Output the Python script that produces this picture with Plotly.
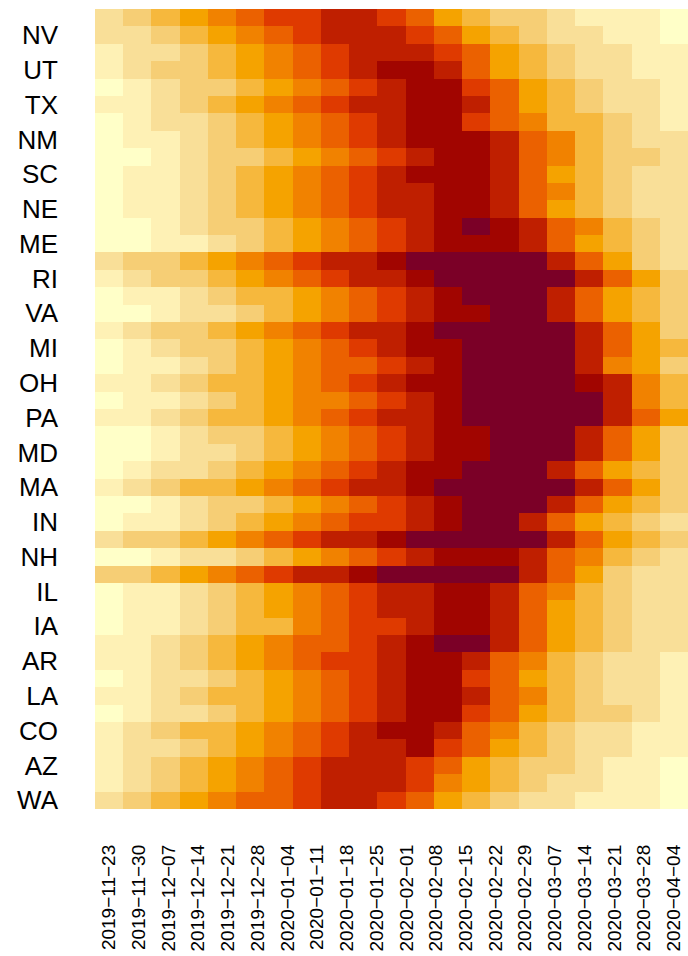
import plotly.graph_objects as go

# Week labels shown on the x axis (20 labels spread over 21 weekly columns)
week_labels = ["2019−11−23", "2019−11−30", "2019−12−07", "2019−12−14", "2019−12−21",
               "2019−12−28", "2020−01−04", "2020−01−11", "2020−01−18", "2020−01−25",
               "2020−02−01", "2020−02−08", "2020−02−15", "2020−02−22", "2020−02−29",
               "2020−03−07", "2020−03−14", "2020−03−21", "2020−03−28", "2020−04−04"]
n_weeks = 21

# Row labels top-to-bottom (only every other row is labelled in the chart)
row_labels = ["", "NV", "", "UT", "", "TX", "", "NM", "", "SC", "", "NE", "", "ME",
              "", "RI", "", "VA", "", "MI", "", "OH", "", "PA", "", "MD", "", "MA",
              "", "IN", "", "NH", "", "IL", "", "IA", "", "AR", "", "LA", "", "CO",
              "", "AZ", "", "WA"]

# Activity level (1 = lowest, 12 = highest), rows top-to-bottom, 21 weeks each
r01 = [3, 4, 5, 6, 7, 8, 9, 9, 10, 10, 9, 8, 6, 5, 4, 4, 3, 2, 2, 2, 1]
r02 = [3, 3, 4, 5, 6, 7, 8, 9, 10, 10, 10, 9, 8, 6, 5, 4, 3, 3, 2, 2, 1]
r03 = [2, 3, 3, 4, 5, 6, 7, 8, 9, 10, 10, 10, 9, 8, 6, 5, 4, 3, 3, 2, 2]
r04 = [2, 3, 4, 4, 5, 6, 7, 8, 9, 10, 11, 11, 10, 8, 6, 5, 4, 3, 3, 2, 2]
r05 = [1, 2, 3, 4, 4, 5, 6, 7, 8, 9, 10, 11, 11, 9, 8, 6, 5, 4, 3, 3, 2]
r06 = [2, 2, 3, 4, 5, 6, 7, 8, 9, 10, 10, 11, 11, 10, 8, 6, 5, 4, 3, 3, 2]
r07 = [1, 2, 3, 3, 4, 5, 6, 7, 8, 9, 10, 11, 11, 9, 8, 7, 5, 5, 4, 3, 2]
r08 = [1, 2, 2, 3, 4, 5, 6, 7, 8, 9, 10, 11, 11, 11, 10, 8, 7, 5, 4, 3, 3]
r09 = [1, 1, 2, 3, 4, 4, 5, 6, 7, 8, 9, 10, 11, 11, 10, 8, 7, 5, 4, 4, 3]
r10 = [1, 2, 2, 3, 4, 5, 6, 7, 8, 9, 10, 11, 11, 11, 10, 8, 6, 5, 4, 3, 3]
r11 = [1, 2, 2, 3, 4, 5, 6, 7, 8, 9, 10, 10, 11, 11, 10, 8, 7, 5, 4, 3, 3]
r12 = [1, 2, 2, 3, 4, 5, 6, 7, 8, 9, 10, 10, 11, 11, 10, 8, 6, 5, 4, 3, 3]
r13 = [1, 1, 2, 3, 4, 4, 5, 6, 7, 8, 9, 10, 11, 12, 11, 10, 8, 7, 5, 4, 3]
r14 = [1, 1, 2, 2, 3, 4, 5, 6, 7, 8, 9, 10, 11, 11, 11, 10, 8, 6, 5, 4, 3]
r15 = [3, 4, 4, 5, 6, 7, 8, 9, 10, 10, 11, 12, 12, 12, 12, 12, 10, 8, 6, 4, 3]
r16 = [2, 3, 4, 4, 5, 6, 7, 8, 9, 10, 10, 11, 12, 12, 12, 12, 12, 10, 8, 6, 4]
r17 = [1, 2, 2, 3, 4, 5, 5, 6, 7, 8, 9, 10, 11, 12, 12, 12, 10, 8, 6, 5, 4]
r18 = [1, 1, 2, 3, 3, 4, 5, 6, 7, 8, 9, 10, 11, 11, 12, 12, 10, 8, 6, 5, 4]
r19 = [2, 3, 4, 4, 5, 6, 7, 8, 9, 10, 10, 11, 12, 12, 12, 12, 12, 10, 8, 6, 4]
r20 = [1, 2, 3, 4, 4, 5, 6, 7, 8, 9, 10, 11, 11, 12, 12, 12, 12, 10, 8, 6, 5]
r21 = [1, 2, 2, 3, 4, 5, 6, 7, 8, 8, 9, 10, 11, 12, 12, 12, 12, 10, 7, 6, 4]
r22 = [2, 2, 3, 4, 5, 5, 6, 7, 8, 9, 10, 11, 11, 12, 12, 12, 12, 11, 10, 7, 5]
r23 = [1, 2, 2, 3, 4, 5, 6, 7, 7, 8, 9, 10, 11, 12, 12, 12, 12, 12, 10, 7, 5]
r24 = [2, 2, 3, 4, 5, 5, 6, 7, 8, 9, 10, 10, 11, 12, 12, 12, 12, 12, 10, 8, 6]
r25 = [1, 1, 2, 3, 4, 4, 5, 6, 7, 8, 9, 10, 11, 11, 12, 12, 12, 10, 8, 6, 4]
r26 = [1, 1, 2, 3, 3, 4, 5, 6, 7, 8, 9, 10, 11, 11, 12, 12, 12, 10, 8, 6, 4]
r27 = [1, 2, 3, 3, 4, 5, 6, 7, 8, 9, 10, 11, 11, 12, 12, 12, 10, 8, 6, 5, 4]
r28 = [2, 3, 4, 5, 5, 6, 7, 8, 9, 10, 10, 11, 12, 12, 12, 12, 12, 10, 8, 6, 4]
r29 = [1, 1, 2, 3, 4, 4, 5, 6, 7, 8, 9, 10, 11, 12, 12, 12, 10, 8, 6, 5, 4]
r30 = [1, 2, 2, 3, 4, 5, 6, 7, 8, 9, 9, 10, 11, 12, 12, 10, 8, 6, 5, 4, 3]
r31 = [3, 4, 4, 5, 6, 7, 8, 9, 10, 10, 11, 12, 12, 12, 12, 12, 10, 8, 6, 5, 4]
r32 = [1, 1, 2, 3, 3, 4, 5, 6, 7, 8, 9, 10, 11, 11, 11, 10, 8, 7, 5, 4, 3]
r33 = [4, 4, 5, 6, 7, 8, 9, 10, 10, 11, 12, 12, 12, 12, 12, 10, 8, 6, 4, 3, 3]
r34 = [1, 2, 2, 3, 4, 5, 6, 7, 8, 9, 10, 10, 11, 11, 10, 8, 7, 5, 4, 3, 3]
r35 = [1, 2, 2, 3, 4, 5, 6, 7, 8, 9, 10, 10, 11, 11, 10, 8, 6, 5, 4, 3, 3]
r36 = [1, 2, 2, 3, 4, 5, 5, 7, 8, 9, 9, 10, 11, 11, 10, 8, 6, 5, 4, 3, 3]
r37 = [2, 2, 3, 4, 5, 6, 7, 8, 8, 9, 10, 11, 12, 12, 10, 8, 6, 5, 4, 3, 3]
r38 = [2, 2, 3, 4, 5, 6, 7, 8, 9, 9, 10, 11, 11, 10, 8, 7, 5, 4, 3, 3, 2]
r39 = [1, 2, 3, 3, 4, 5, 6, 7, 8, 9, 10, 11, 11, 9, 8, 6, 5, 4, 3, 3, 2]
r40 = [2, 2, 3, 4, 5, 5, 6, 7, 8, 9, 10, 11, 11, 10, 8, 7, 5, 4, 3, 3, 2]
r41 = [1, 2, 3, 3, 4, 5, 6, 7, 8, 9, 10, 11, 11, 9, 8, 6, 5, 4, 4, 3, 2]
r42 = [2, 3, 4, 5, 5, 6, 7, 8, 9, 10, 11, 11, 10, 8, 7, 5, 4, 3, 3, 2, 2]
r43 = [2, 3, 3, 4, 5, 6, 7, 8, 9, 10, 10, 11, 9, 8, 6, 5, 4, 3, 3, 2, 2]
r44 = [2, 3, 4, 5, 6, 7, 8, 9, 10, 10, 10, 9, 8, 6, 5, 4, 4, 3, 2, 2, 1]
r45 = [2, 3, 4, 5, 6, 7, 8, 9, 10, 10, 10, 9, 7, 6, 5, 4, 3, 3, 2, 2, 1]
r46 = [3, 4, 5, 6, 7, 8, 8, 9, 10, 10, 9, 8, 6, 5, 4, 3, 3, 2, 2, 2, 1]

levels = [r01, r02, r03, r04, r05, r06, r07, r08, r09, r10, r11, r12, r13, r14, r15,
          r16, r17, r18, r19, r20, r21, r22, r23, r24, r25, r26, r27, r28, r29, r30,
          r31, r32, r33, r34, r35, r36, r37, r38, r39, r40, r41, r42, r43, r44, r45, r46]

# Palette, level 1 (light) to level 12 (dark)
palette = ["#FFFFC8", "#FEF1B5", "#F9DF98", "#F6CE75", "#F6B83D", "#F5A300",
           "#F18200", "#EB6100", "#DF3A00", "#BF1F00", "#A10500", "#7B0027"]

n = len(palette)
colorscale = []
for i, c in enumerate(palette):
    colorscale.append([i / n, c])
    colorscale.append([(i + 1) / n, c])

tickvals_y = [i for i, s in enumerate(row_labels) if s]
ticktext_y = [s for s in row_labels if s]
tickvals_x = [i * (n_weeks - 1) / (len(week_labels) - 1) for i in range(len(week_labels))]

fig = go.Figure(go.Heatmap(
    z=levels,
    x=list(range(n_weeks)),
    y=list(range(len(row_labels))),
    colorscale=colorscale,
    zmin=0.5, zmax=n + 0.5,
    showscale=False,
    xgap=0, ygap=0,
    hoverinfo="skip",
))

fig.update_layout(
    width=688, height=956,
    margin=dict(l=95, r=0, t=9, b=147),
    paper_bgcolor="white", plot_bgcolor="white",
    font=dict(family="Liberation Sans, Arial, sans-serif", color="black"),
)
fig.update_xaxes(
    range=[-0.5, n_weeks - 0.5],
    tickmode="array", tickvals=tickvals_x, ticktext=week_labels,
    tickangle=-90, tickfont=dict(size=19),
    ticks="", showgrid=False, zeroline=False, showline=False,
    ticklabelstandoff=31,
)
fig.update_yaxes(
    range=[len(row_labels) - 0.5, -0.5],
    tickmode="array", tickvals=tickvals_y, ticktext=ticktext_y,
    tickfont=dict(size=26),
    ticks="", showgrid=False, zeroline=False, showline=False,
    ticklabelstandoff=36,
)

fig.write_html(
    "out.html",
    config={"displayModeBar": False},
    post_script="document.body.style.margin='0';document.body.style.overflow='hidden';",
)
